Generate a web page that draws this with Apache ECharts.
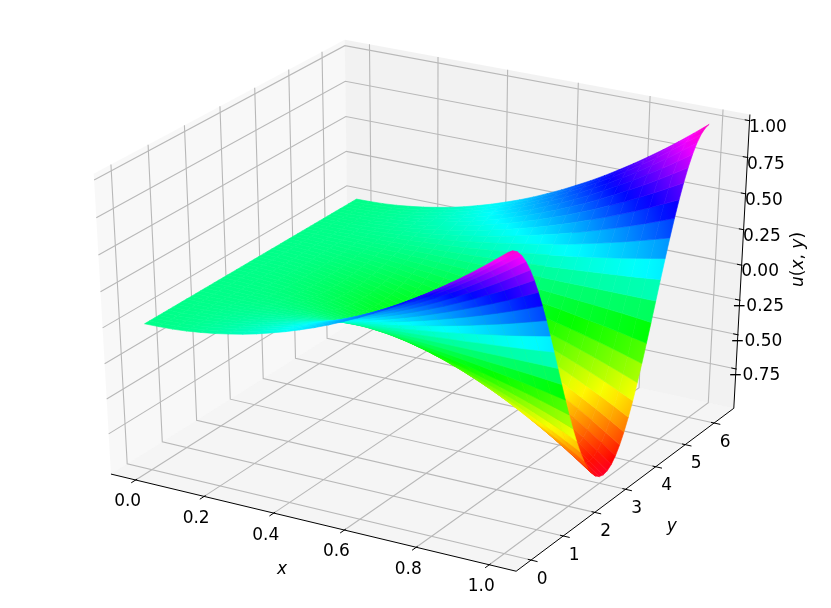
<!DOCTYPE html>
<html>
<head>
<meta charset="utf-8">
<script src="https://cdn.jsdelivr.net/npm/echarts@6/dist/echarts.min.js"></script>
<style>
html, body { margin: 0; padding: 0; background: #fff; }
#main { width: 831px; height: 608px; }
</style>
</head>
<body>
<div id="main"></div>
<script>
// surface samples: uGrid[i][j] is u at xValues[i], yValues[j]
var xValues = [0, .04, .08, .12, .16, .2, .24, .28, .32, .36, .4, .44, .48, .52, .56, .6, .64, .68, .72, .76, .8, .84, .88, .92, .96, 1];
var yValues = [0, .13, .26, .39, .52, .65, .78, .91, 1.04, 1.17, 1.3, 1.43, 1.56, 1.69, 1.82, 1.95, 2.08, 2.21, 2.34, 2.47, 2.6, 2.73, 2.86, 2.99, 3.12, 3.25, 3.38, 3.51, 3.64, 3.77, 3.9, 4.03, 4.16, 4.29, 4.42, 4.55, 4.68, 4.81, 4.94, 5.07, 5.2, 5.33, 5.46, 5.59, 5.72, 5.85, 5.98, 6.11, 6.24];
var uGrid = [
[0,0,0,0,0,0,0,0,0,0,0,0,0,0,0,0,0,0,0,0,0,0,0,0,0,0,0,0,0,0,0,0,0,0,0,0,0,0,0,0,0,0,0,0,0,0,0,0,0],
[.002,.002,.002,.001,.001,.001,.001,.001,.001,.001,0,0,0,0,0,-.001,-.001,-.001,-.001,-.001,-.001,-.001,-.002,-.002,-.002,-.002,-.002,-.001,-.001,-.001,-.001,-.001,-.001,-.001,0,0,0,0,0,.001,.001,.001,.001,.001,.001,.001,.002,.002,.002],
[.006,.006,.006,.006,.006,.005,.005,.004,.003,.002,.002,.001,0,-.001,-.002,-.002,-.003,-.004,-.005,-.005,-.006,-.006,-.006,-.006,-.006,-.006,-.006,-.006,-.006,-.005,-.005,-.004,-.003,-.002,-.002,-.001,0,.001,.002,.002,.003,.004,.005,.005,.006,.006,.006,.006,.006],
[.014,.014,.014,.013,.012,.011,.01,.009,.007,.006,.004,.002,0,-.002,-.004,-.006,-.007,-.009,-.01,-.011,-.012,-.013,-.014,-.014,-.014,-.014,-.014,-.013,-.012,-.011,-.01,-.009,-.007,-.006,-.004,-.002,0,.002,.004,.006,.007,.009,.01,.011,.012,.013,.014,.014,.014],
[.026,.025,.025,.024,.022,.02,.018,.016,.013,.01,.007,.003,0,-.003,-.007,-.01,-.013,-.016,-.018,-.02,-.022,-.024,-.025,-.025,-.026,-.025,-.025,-.024,-.022,-.02,-.018,-.016,-.013,-.01,-.007,-.003,0,.003,.007,.01,.013,.016,.018,.02,.022,.024,.025,.025,.026],
[.04,.04,.039,.037,.035,.032,.028,.024,.02,.015,.01,.005,0,-.005,-.01,-.015,-.02,-.024,-.028,-.032,-.035,-.037,-.039,-.04,-.04,-.04,-.039,-.037,-.035,-.032,-.028,-.024,-.02,-.015,-.01,-.005,0,.005,.01,.015,.02,.024,.028,.032,.035,.037,.039,.04,.04],
[.058,.057,.056,.053,.05,.046,.041,.035,.029,.022,.015,.008,0,-.008,-.015,-.022,-.029,-.035,-.041,-.046,-.05,-.053,-.056,-.057,-.058,-.057,-.056,-.053,-.05,-.046,-.041,-.035,-.029,-.022,-.015,-.008,0,.008,.015,.022,.029,.035,.041,.046,.05,.053,.056,.057,.058],
[.078,.078,.076,.072,.068,.062,.055,.048,.039,.03,.02,.01,0,-.01,-.02,-.03,-.039,-.048,-.055,-.062,-.068,-.072,-.076,-.078,-.078,-.078,-.076,-.072,-.068,-.062,-.055,-.048,-.039,-.03,-.02,-.01,0,.01,.02,.03,.039,.048,.055,.062,.068,.072,.076,.078,.078],
[.102,.102,.099,.095,.089,.081,.072,.062,.051,.039,.027,.013,0,-.013,-.027,-.039,-.051,-.062,-.072,-.081,-.089,-.095,-.099,-.102,-.102,-.102,-.099,-.095,-.089,-.081,-.072,-.062,-.051,-.039,-.027,-.013,0,.013,.027,.039,.051,.062,.072,.081,.089,.095,.099,.102,.102],
[.13,.128,.125,.12,.112,.103,.092,.079,.065,.05,.034,.017,0,-.017,-.034,-.05,-.065,-.079,-.092,-.103,-.112,-.12,-.125,-.128,-.13,-.128,-.125,-.12,-.112,-.103,-.092,-.079,-.065,-.05,-.034,-.017,0,.017,.034,.05,.065,.079,.092,.103,.112,.12,.125,.128,.13],
[.16,.159,.155,.148,.139,.127,.113,.097,.08,.061,.041,.021,0,-.021,-.041,-.061,-.08,-.097,-.113,-.127,-.139,-.148,-.155,-.159,-.16,-.159,-.155,-.148,-.139,-.127,-.113,-.097,-.08,-.061,-.041,-.021,0,.021,.041,.061,.08,.097,.113,.127,.139,.148,.155,.159,.16],
[.194,.192,.187,.179,.168,.154,.137,.118,.097,.074,.05,.025,0,-.025,-.05,-.074,-.097,-.118,-.137,-.154,-.168,-.179,-.187,-.192,-.194,-.192,-.187,-.179,-.168,-.154,-.137,-.118,-.097,-.074,-.05,-.025,0,.025,.05,.074,.097,.118,.137,.154,.168,.179,.187,.192,.194],
[.23,.228,.223,.213,.2,.183,.163,.14,.115,.088,.06,.03,0,-.03,-.06,-.088,-.115,-.14,-.163,-.183,-.2,-.213,-.223,-.228,-.23,-.228,-.223,-.213,-.2,-.183,-.163,-.14,-.115,-.088,-.06,-.03,0,.03,.06,.088,.115,.14,.163,.183,.2,.213,.223,.228,.23],
[.27,.268,.261,.25,.234,.215,.191,.165,.135,.103,.07,.035,0,-.035,-.07,-.103,-.135,-.165,-.191,-.215,-.234,-.25,-.261,-.268,-.27,-.268,-.261,-.25,-.234,-.215,-.191,-.165,-.135,-.103,-.07,-.035,0,.035,.07,.103,.135,.165,.191,.215,.234,.25,.261,.268,.27],
[.314,.311,.303,.29,.272,.249,.222,.191,.157,.12,.081,.041,0,-.041,-.081,-.12,-.157,-.191,-.222,-.249,-.272,-.29,-.303,-.311,-.314,-.311,-.303,-.29,-.272,-.249,-.222,-.191,-.157,-.12,-.081,-.041,0,.041,.081,.12,.157,.191,.222,.249,.272,.29,.303,.311,.314],
[.36,.357,.348,.333,.312,.286,.255,.219,.18,.138,.093,.047,0,-.047,-.093,-.138,-.18,-.219,-.255,-.286,-.312,-.333,-.348,-.357,-.36,-.357,-.348,-.333,-.312,-.286,-.255,-.219,-.18,-.138,-.093,-.047,0,.047,.093,.138,.18,.219,.255,.286,.312,.333,.348,.357,.36],
[.41,.406,.396,.378,.355,.325,.29,.249,.205,.157,.106,.053,0,-.053,-.106,-.157,-.205,-.249,-.29,-.325,-.355,-.378,-.396,-.406,-.41,-.406,-.396,-.378,-.355,-.325,-.29,-.249,-.205,-.157,-.106,-.053,0,.053,.106,.157,.205,.249,.29,.325,.355,.378,.396,.406,.41],
[.462,.458,.447,.427,.4,.367,.327,.281,.231,.177,.12,.06,0,-.06,-.12,-.177,-.231,-.281,-.327,-.367,-.4,-.427,-.447,-.458,-.462,-.458,-.447,-.427,-.4,-.367,-.327,-.281,-.231,-.177,-.12,-.06,0,.06,.12,.177,.231,.281,.327,.367,.4,.427,.447,.458,.462],
[.518,.514,.501,.479,.449,.411,.367,.316,.259,.198,.134,.068,0,-.068,-.134,-.198,-.259,-.316,-.367,-.411,-.449,-.479,-.501,-.514,-.518,-.514,-.501,-.479,-.449,-.411,-.367,-.316,-.259,-.198,-.134,-.068,0,.068,.134,.198,.259,.316,.367,.411,.449,.479,.501,.514,.518],
[.578,.573,.558,.534,.5,.458,.408,.352,.289,.221,.149,.075,0,-.075,-.149,-.221,-.289,-.352,-.408,-.458,-.5,-.534,-.558,-.573,-.578,-.573,-.558,-.534,-.5,-.458,-.408,-.352,-.289,-.221,-.149,-.075,0,.075,.149,.221,.289,.352,.408,.458,.5,.534,.558,.573,.578],
[.64,.635,.618,.591,.554,.508,.453,.39,.32,.245,.166,.084,0,-.084,-.166,-.245,-.32,-.39,-.453,-.508,-.554,-.591,-.618,-.635,-.64,-.635,-.618,-.591,-.554,-.508,-.453,-.39,-.32,-.245,-.166,-.084,0,.084,.166,.245,.32,.39,.453,.508,.554,.591,.618,.635,.64],
[.706,.7,.682,.652,.611,.56,.499,.43,.353,.27,.183,.092,0,-.092,-.183,-.27,-.353,-.43,-.499,-.56,-.611,-.652,-.682,-.7,-.706,-.7,-.682,-.652,-.611,-.56,-.499,-.43,-.353,-.27,-.183,-.092,0,.092,.183,.27,.353,.43,.499,.56,.611,.652,.682,.7,.706],
[.774,.768,.748,.715,.671,.614,.548,.471,.387,.296,.2,.101,0,-.101,-.2,-.296,-.387,-.471,-.548,-.614,-.671,-.715,-.748,-.768,-.774,-.768,-.748,-.715,-.671,-.614,-.548,-.471,-.387,-.296,-.2,-.101,0,.101,.2,.296,.387,.471,.548,.614,.671,.715,.748,.768,.774],
[.846,.839,.818,.782,.733,.671,.598,.515,.423,.324,.219,.11,0,-.11,-.219,-.324,-.423,-.515,-.598,-.671,-.733,-.782,-.818,-.839,-.846,-.839,-.818,-.782,-.733,-.671,-.598,-.515,-.423,-.324,-.219,-.11,0,.11,.219,.324,.423,.515,.598,.671,.733,.782,.818,.839,.846],
[.922,.914,.89,.851,.798,.731,.652,.561,.461,.353,.239,.12,0,-.12,-.239,-.353,-.461,-.561,-.652,-.731,-.798,-.851,-.89,-.914,-.922,-.914,-.89,-.851,-.798,-.731,-.652,-.561,-.461,-.353,-.239,-.12,0,.12,.239,.353,.461,.561,.652,.731,.798,.851,.89,.914,.922],
[1,.991,.966,.924,.866,.793,.707,.609,.5,.383,.259,.131,0,-.131,-.259,-.383,-.5,-.609,-.707,-.793,-.866,-.924,-.966,-.991,-1,-.991,-.966,-.924,-.866,-.793,-.707,-.609,-.5,-.383,-.259,-.131,0,.131,.259,.383,.5,.609,.707,.793,.866,.924,.966,.991,1]
];

var xTicks = [0, .2, .4, .6, .8, 1];
var xTickLabels = ['0.0', '0.2', '0.4', '0.6', '0.8', '1.0'];
var yTicks = [0, 1, 2, 3, 4, 5, 6];
var yTickLabels = ['0', '1', '2', '3', '4', '5', '6'];
var zTicks = [-.75, -.5, -.25, 0, .25, .5, .75, 1];
var zTickLabels = ['\u22120.75', '\u22120.50', '\u22120.25', '0.00', '0.25', '0.50', '0.75', '1.00'];

var xLim = [-.05, 1.05];
var yLim = [-.312, 6.552];
var zLim = [-1, 1];

// gist_rainbow stops: position, r, g, b
var rainbow = [
    [0, 1, 0, .16], [.03, 1, 0, 0], [.215, 1, 1, 0], [.4, 0, 1, 0],
    [.586, 0, 1, 1], [.77, 0, 0, 1], [.954, 1, 0, 1], [1, 1, 0, .75]
];

function rainbowColor(t) {
    var k = 1;
    while (k < rainbow.length - 1 && rainbow[k][0] < t) k++;
    var a = rainbow[k - 1], b = rainbow[k];
    var f = Math.max(0, Math.min(1, (t - a[0]) / (b[0] - a[0])));
    return 'rgb(' + [1, 2, 3].map(function (c) {
        return Math.round(255 * (a[c] + (b[c] - a[c]) * f));
    }).join(',') + ')';
}

function normX(v) { return (v - xLim[0]) / (xLim[1] - xLim[0]); }
function normY(v) { return (v - yLim[0]) / (yLim[1] - yLim[0]); }
function normZ(v) { return (v - zLim[0]) / (zLim[1] - zLim[0]); }

// camera: elevation 30, azimuth -60, distance 10 around the box centre
var camU = [Math.sqrt(3) / 2, .5, 0];
var camV = [-.25, Math.sqrt(3) / 4, Math.sqrt(3) / 2];
var camN = [Math.sqrt(3) / 4, -.75, .5];

function project(p) {
    var d = [p[0] - .5, p[1] - .5, p[2] - .5];
    var w = 10 - (camN[0] * d[0] + camN[1] * d[1] + camN[2] * d[2]);
    return [
        (camU[0] * d[0] + camU[1] * d[1] + camU[2] * d[2]) / w,
        (camV[0] * d[0] + camV[1] * d[1] + camV[2] * d[2]) / w,
        w
    ];
}

var lo = -1 / 48, hi = 1 + 1 / 48;

function surfacePoint(i, j) {
    return [normX(xValues[i]), normY(yValues[j]), normZ(uGrid[i][j])];
}

// facets sorted far to near
var facets = [];
for (var i = 0; i < xValues.length - 1; i++) {
    for (var j = 0; j < yValues.length - 1; j++) {
        var depth = 0;
        [[i, j], [i + 1, j], [i + 1, j + 1], [i, j + 1]].forEach(function (c) {
            depth += project(surfacePoint(c[0], c[1]))[2];
        });
        facets.push([i, j, depth]);
    }
}
facets.sort(function (a, b) { return b[2] - a[2]; });

var panes = [
    { fill: 'rgba(242,242,242,0.5)', pts: [[lo, lo, lo], [lo, hi, lo], [lo, hi, hi], [lo, lo, hi]] },
    { fill: 'rgba(230,230,230,0.5)', pts: [[lo, hi, lo], [hi, hi, lo], [hi, hi, hi], [lo, hi, hi]] },
    { fill: 'rgba(236,236,236,0.5)', pts: [[lo, lo, lo], [hi, lo, lo], [hi, hi, lo], [lo, hi, lo]] }
];

var gridLines = [];
xTicks.forEach(function (t) {
    var v = normX(t);
    gridLines.push([[v, lo, lo], [v, hi, lo], [v, hi, hi]]);
});
yTicks.forEach(function (t) {
    var v = normY(t);
    gridLines.push([[hi, v, lo], [lo, v, lo], [lo, v, hi]]);
});
zTicks.forEach(function (t) {
    var v = normZ(t);
    gridLines.push([[hi, hi, v], [lo, hi, v], [lo, lo, v]]);
});

var axisLines = [
    [[lo, lo, lo], [hi, lo, lo]],
    [[hi, lo, lo], [hi, hi, lo]],
    [[hi, hi, lo], [hi, hi, hi]]
];
xTicks.forEach(function (t) {
    var v = normX(t);
    axisLines.push([[v, lo - .018, lo], [v, lo + .006, lo]]);
});
yTicks.forEach(function (t) {
    var v = normY(t);
    axisLines.push([[hi + .016, v, lo], [hi - .008, v, lo]]);
});
zTicks.forEach(function (t) {
    var v = normZ(t);
    axisLines.push([[hi + .002, hi, v], [hi - .012, hi, v]]);
});

var labels = [];
xTicks.forEach(function (t, k) {
    labels.push({ at: [normX(t), lo, lo], dx: -8, dy: 22, text: xTickLabels[k] });
});
yTicks.forEach(function (t, k) {
    labels.push({ at: [hi, normY(t), lo], dx: 11, dy: 19.3, text: yTickLabels[k] });
});
zTicks.forEach(function (t, k) {
    labels.push({ at: [hi, hi, normZ(t)], dx: 18.4, dy: 6.8, text: zTickLabels[k] });
});
labels.push({ at: [.5, lo, lo], dx: -27, dy: 48, text: '{i|x}' });
labels.push({ at: [hi, .5, lo], dx: 42.5, dy: 40, text: '{i|y}' });
labels.push({ at: [hi, hi, normZ(0)], dx: 56.7, dy: -5.7, rotate: true, text: '{i|u}{n|(}{i|x}{n|, }{i|y}{n|)}' });

var fontName = '"DejaVu Sans"';
var richText = {
    i: { fontFamily: fontName, fontSize: 17, fontStyle: 'italic', fill: '#000' },
    n: { fontFamily: fontName, fontSize: 17, fill: '#000' }
};

function toPixel(api, p) {
    var q = project(p);
    return api.coord([q[0], q[1]]);
}

function indexData(list) {
    return list.map(function (_, k) { return [k, 0]; });
}

function customSeries(count, renderItem) {
    return {
        type: 'custom',
        coordinateSystem: 'cartesian2d',
        data: count,
        renderItem: renderItem,
        clip: false,
        silent: true,
        animation: false,
        progressive: 0,
        encode: { x: [], y: [] }
    };
}

function polylineSeries(list, color, width) {
    return customSeries(indexData(list), function (params, api) {
        var line = list[api.value(0)];
        return {
            type: 'polyline',
            shape: { points: line.map(function (p) { return toPixel(api, p); }) },
            style: { stroke: color, lineWidth: width, fill: null }
        };
    });
}

var paneSeries = customSeries(indexData(panes), function (params, api) {
    var pane = panes[api.value(0)];
    return {
        type: 'polygon',
        shape: { points: pane.pts.map(function (p) { return toPixel(api, p); }) },
        style: { fill: pane.fill }
    };
});

// each facet keeps one colour across y but blends across x, which gives the curved bands
var surfaceSeries = customSeries(facets, function (params, api) {
    var i = api.value(0), j = api.value(1);
    var pts = [[i, j], [i + 1, j], [i + 1, j + 1], [i, j + 1]].map(function (c) {
        return toPixel(api, surfacePoint(c[0], c[1]));
    });
    var from = rainbowColor(normZ((uGrid[i][j] + uGrid[i][j + 1]) / 2));
    var to = rainbowColor(normZ((uGrid[i + 1][j] + uGrid[i + 1][j + 1]) / 2));
    var fill = {
        type: 'linear',
        global: true,
        x: (pts[0][0] + pts[3][0]) / 2,
        y: (pts[0][1] + pts[3][1]) / 2,
        x2: (pts[1][0] + pts[2][0]) / 2,
        y2: (pts[1][1] + pts[2][1]) / 2,
        colorStops: [{ offset: 0, color: from }, { offset: 1, color: to }]
    };
    return {
        type: 'polygon',
        shape: { points: pts },
        style: { fill: fill, stroke: fill, lineWidth: .6 }
    };
});

var labelSeries = customSeries(indexData(labels), function (params, api) {
    var item = labels[api.value(0)];
    var pos = toPixel(api, item.at);
    return {
        type: 'text',
        x: pos[0] + item.dx,
        y: pos[1] + item.dy,
        rotation: item.rotate ? Math.PI / 2 : 0,
        style: {
            text: item.text,
            rich: richText,
            fontFamily: fontName,
            fontSize: 17,
            fill: '#000',
            align: 'center',
            verticalAlign: 'middle'
        }
    };
});

var myChart = echarts.init(document.getElementById('main'));
var option = {
    animation: false,
    backgroundColor: '#fff',
    grid: { left: 0, right: 0, top: 0, bottom: 0 },
    xAxis: { type: 'value', min: -.09519, max: .08989, show: false },
    yAxis: { type: 'value', min: -.09483, max: .08997, show: false },
    series: [
        paneSeries,
        polylineSeries(gridLines, '#b8b8b8', 1.1),
        polylineSeries(axisLines, '#000', 1),
        labelSeries,
        surfaceSeries
    ]
};
option && myChart.setOption(option);
</script>
</body>
</html>
